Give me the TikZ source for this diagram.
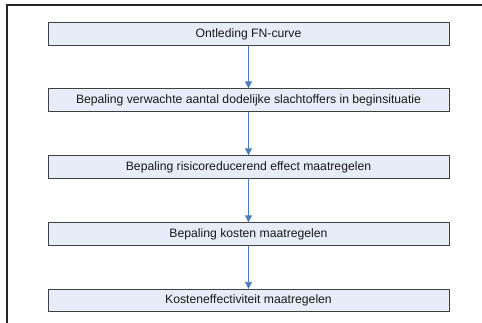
\documentclass[tikz,border=0pt]{standalone}
\usepackage{fontspec}
\setmainfont{Liberation Sans}
\usetikzlibrary{arrows.meta}
\definecolor{boxfill}{HTML}{E6EDF8}
\definecolor{boxline}{HTML}{404040}
\definecolor{arrowblue}{HTML}{4A7EBB}
\tikzset{
  stepbox/.style={draw=boxline, line width=0.9pt, fill=boxfill, minimum width=401pt, minimum height=22.5pt, inner sep=0pt, font=\fontsize{12.2}{14}\selectfont, text=black!90},
  flow/.style={draw=arrowblue, line width=0.9pt, -{Triangle[length=7pt,width=7pt]}},
  frame/.style={draw=black!85, line width=1.1pt}
}
\begin{document}
\begin{tikzpicture}[x=1pt,y=-1pt]
\useasboundingbox (0,0) rectangle (482,322);
\coordinate (fb) at (7,323);
\coordinate (fc) at (7,5);
\coordinate (fr) at (483,5);
\draw[frame] (fb) -- (fc) -- (fr);
\node[stepbox] (b1) at (248.5,34) {Ontleding FN-curve};
\node[stepbox] (b2) at (248.5,100) {Bepaling verwachte aantal dodelijke slachtoffers in beginsituatie};
\node[stepbox] (b3) at (248.5,167) {Bepaling risicoreducerend effect maatregelen};
\node[stepbox] (b4) at (248.5,234) {Bepaling kosten maatregelen};
\node[stepbox] (b5) at (248.5,300.5) {Kosteneffectiviteit maatregelen};
\draw[flow] (b1.south) -- (b2.north);
\draw[flow] (b2.south) -- (b3.north);
\draw[flow] (b3.south) -- (b4.north);
\draw[flow] (b4.south) -- (b5.north);
\end{tikzpicture}
\end{document}
